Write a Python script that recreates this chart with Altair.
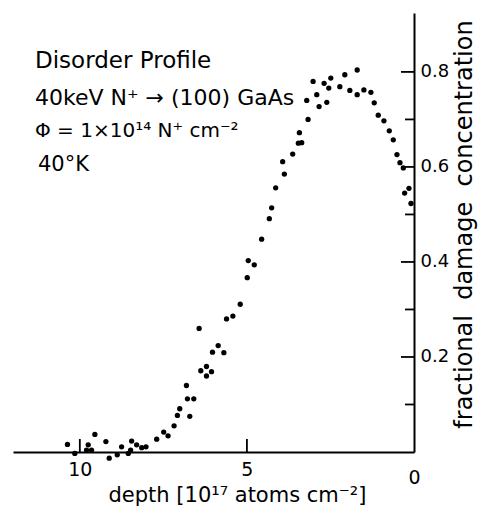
import altair as alt
import pandas as pd

# Disorder profile: depth (10^17 atoms/cm^2) vs fractional damage concentration
depth = [
    10.37, 10.15, 9.75, 9.80, 9.65, 9.55, 9.22, 9.12, 8.88, 8.75,
    8.55, 8.48, 8.45, 8.30, 8.15, 8.02, 7.70, 7.49, 7.36, 7.18,
    7.08, 7.01, 6.81, 6.78, 6.71, 6.59, 6.43, 6.38, 6.21, 6.21,
    6.06, 6.03, 5.86, 5.69, 5.61, 5.42, 5.20, 4.99, 4.96, 4.78,
    4.56, 4.33, 4.26, 4.14, 3.93, 3.88, 3.63, 3.46, 3.43, 3.36,
    3.21, 3.17, 3.02, 2.91, 2.84, 2.69, 2.61, 2.55, 2.49, 2.22,
    2.07, 1.92, 1.70, 1.70, 1.50, 1.29, 1.19, 1.07, 0.90, 0.74,
    0.62, 0.51, 0.42, 0.32, 0.28, 0.15, 0.09,
]
damage = [
    0.016, -0.003, 0.015, 0.004, 0.004, 0.037, 0.022, -0.013, -0.006, 0.011,
    -0.003, 0.004, 0.023, 0.015, 0.009, 0.011, 0.027, 0.042, 0.034, 0.055,
    0.077, 0.091, 0.140, 0.112, 0.075, 0.112, 0.260, 0.171, 0.180, 0.160,
    0.169, 0.210, 0.224, 0.209, 0.280, 0.286, 0.311, 0.367, 0.403, 0.394,
    0.448, 0.491, 0.514, 0.556, 0.611, 0.585, 0.627, 0.650, 0.672, 0.651,
    0.740, 0.700, 0.780, 0.752, 0.727, 0.776, 0.736, 0.766, 0.787, 0.769,
    0.794, 0.761, 0.804, 0.752, 0.762, 0.757, 0.735, 0.709, 0.697, 0.676,
    0.657, 0.626, 0.609, 0.598, 0.545, 0.555, 0.523,
]

y_major = [0.2, 0.4, 0.6, 0.8]
y_minor = [0.1, 0.3, 0.5, 0.7]
x_labels = [10, 5, 0]
x_ticks = [10, 5]

notes = [
    "Disorder Profile",
    "40keV N\u207a \u2192 (100) GaAs",
    "\u03a6 = 1\u00d710\u00b9\u2074 N\u207a cm\u207b\u00b2",
    "40\u00b0K",
]

FONT = "DejaVu Sans"
W, H = 401, 439
GAP = "\u00a0\u00a0"

x_scale = alt.Scale(domain=[0, 12], reverse=True, nice=False, zero=False)
y_scale = alt.Scale(domain=[0, 0.924], nice=False, zero=False)

x_axis = alt.Axis(
    orient="bottom",
    values=x_labels,
    format="d",
    grid=False,
    ticks=False,
    domainColor="black",
    domainWidth=2,
    labelFont=FONT,
    labelFontSize=19,
    labelColor="black",
    labelFlush=False,
    labelOverlap=False,
    labelPadding={"condition": {"test": "datum.value == 0", "value": 16}, "value": 8},
    title="depth [10\u00b9\u2077 atoms cm\u207b\u00b2]",
    titleFont=FONT,
    titleFontSize=21,
    titleFontWeight="normal",
    titleColor="black",
    titleX=224,
    titleY=43,
    titleAlign="center",
    titleBaseline="middle",
)
y_axis = alt.Axis(
    orient="right",
    values=y_major,
    format=".1f",
    grid=False,
    ticks=False,
    domainColor="black",
    domainWidth=2,
    labelFont=FONT,
    labelFontSize=18,
    labelColor="black",
    labelFlush=False,
    labelOverlap=False,
    labelPadding=6,
    labelBaseline="middle",
    title="fractional" + GAP + "damage" + GAP + "concentration",
    titleFont=FONT,
    titleFontSize=24,
    titleFontWeight="normal",
    titleColor="black",
    titleAngle=270,
    titleX=50,
    titleY=211,
    titleAlign="center",
    titleBaseline="middle",
)

points = alt.Chart(pd.DataFrame({"depth": depth, "damage": damage})).mark_circle(
    size=28, color="black", opacity=1
).encode(
    x=alt.X("depth:Q", scale=x_scale, axis=x_axis),
    y=alt.Y("damage:Q", scale=y_scale, axis=y_axis),
)

# inward-pointing tick marks on the right-hand axis
major_rules = alt.Chart(pd.DataFrame({"damage": y_major})).mark_rule(
    color="black", strokeWidth=1.8
).encode(
    y=alt.Y("damage:Q", scale=y_scale, axis=y_axis),
    x=alt.value(W - 13),
    x2=alt.value(W),
)
minor_rules = alt.Chart(pd.DataFrame({"damage": y_minor})).mark_rule(
    color="black", strokeWidth=1.8
).encode(
    y=alt.Y("damage:Q", scale=y_scale, axis=y_axis),
    x=alt.value(W - 9),
    x2=alt.value(W),
)
# upward tick marks on the depth axis
x_rules = alt.Chart(pd.DataFrame({"depth": x_ticks})).mark_rule(
    color="black", strokeWidth=1.8
).encode(
    x=alt.X("depth:Q", scale=x_scale, axis=x_axis),
    y=alt.value(H - 13),
    y2=alt.value(H),
)

# annotation block in the upper left
note_pos = [(22, 55, 23), (22, 92, 22), (22, 124, 20), (25, 158, 21)]
note_layers = []
for text, (px, py, fs) in zip(notes, note_pos):
    note_layers.append(
        alt.Chart(pd.DataFrame({"t": [text]})).mark_text(
            align="left", baseline="alphabetic", font=FONT, fontSize=fs, color="black"
        ).encode(text="t:N", x=alt.value(px), y=alt.value(py))
    )

chart = alt.layer(points, major_rules, minor_rules, x_rules, *note_layers).properties(
    width=W,
    height=H,
    autosize=alt.AutoSizeParams(type="none"),
    padding={"left": 13, "top": 13, "right": 68, "bottom": 57},
    background="white",
).configure_view(stroke=None)

chart.save("out.html", embed_options={"renderer": "svg", "actions": False})
